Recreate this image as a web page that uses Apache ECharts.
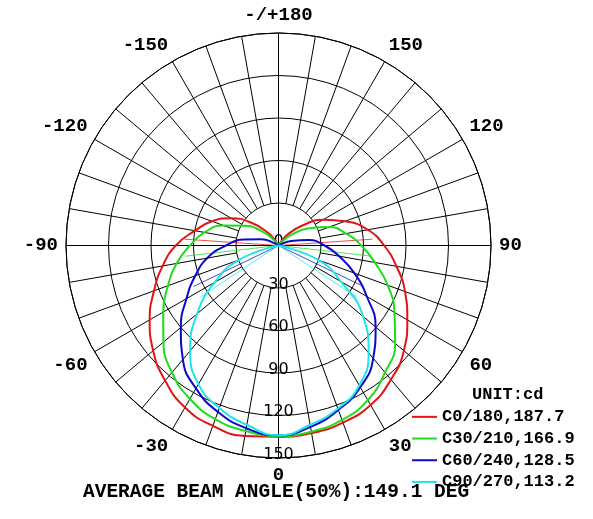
<!DOCTYPE html>
<html><head><meta charset="utf-8">
<script src="https://cdn.jsdelivr.net/npm/echarts@6/dist/echarts.min.js"></script>
<style>html,body{margin:0;padding:0;background:#fff}#c{width:593px;height:519px}</style>
</head><body><div id="c"></div>
<script>
// vertical angle (deg): 0 = nadir (bottom), +90 right, -90 left, +/-180 top
const angles = [-180,-170,-160,-150,-140,-130,-120,-110,-100,-90,-80,-70,-60,-50,-40,-30,-20,-10,0,10,20,30,40,50,60,70,80,90,100,110,120,130,140,150,160,170,180];
const c0   = [0,0,0,3,12,25,38.5,50,60,72.5,83,93.5,105,115.5,124.5,132,135.5,136.5,135,134.5,133,130,123.5,115.5,105,95,84.5,74.5,64,50,36.5,22,10,2,0,0,0];
const c30  = [0,0,0,0,5,16,28,41.5,53,62.5,73,83,94,106,117,125,130.5,133,134.5,133.5,131,126,117,107.5,94.5,82,69,58.5,48.5,38,24,11,3,0,0,0,0];
const c60  = [0,0,0,0,0,0,3,13,24.5,37,51,62.5,75,90,105,116.5,125,131,134,130,123.5,115.5,104,89.5,72,57,43.5,32.5,22,9.5,1,0,0,0,0,0,0];
const c90  = [0,0,0,0,0,0,0,0,0,0,0,30,52,75,97,113,122,128.5,134,128.5,122.5,114,99,78,51,30,0,0,0,0,0,0,0,0,0,0,0];
const seriesNames = ['C0/180','C30/210','C60/240','C90/270'];
const beamAngles = [187.7,166.9,128.5,113.2];
const halfIntensity = 66.5;
const avgBeamAngle = 149.1;
const unitText = 'cd';
const radialMax = 150, radialStep = 30;
const angleLabelStep = 30, spokeStep = 10, crossStep = 90;

const colors = ['#e31414','#1edc1e','#0a0ac8','#1ee6e6'];
const FONT = 'Liberation Mono';
const CX = 278.5, CY = 245.5, R = 212.5;

const toAxis = a => (a + 360) % 360;
const angleFmt = v => v === 180 ? '-/+180' : (v >= 360 ? '' : (v > 180 ? String(v - 360) : String(v)));

const baseAngle = {type:'value', min:0, max:360, startAngle:270, clockwise:false,
  axisTick:{show:false}};

const chart = echarts.init(document.getElementById('c'));
const curveSeries = [c0,c30,c60,c90].map((vals,i)=>({
  name: seriesNames[i], type:'line', coordinateSystem:'polar', polarIndex:0,
  data: angles.map((a,j)=>[vals[j], toAxis(a)]),
  symbol:'none', showSymbol:false, smooth:0.5,
  lineStyle:{color:colors[i], width:2}, itemStyle:{color:colors[i]}, z:5
}));
const beamSeries = beamAngles.map((b,i)=>({
  name: seriesNames[i] + ' beam', type:'line', coordinateSystem:'polar', polarIndex:0,
  data: [[halfIntensity, toAxis(-b/2)], [0, 0], [halfIntensity, toAxis(b/2)]],
  symbol:'none', showSymbol:false,
  lineStyle:{color:colors[i], width:1, opacity:0.75}, itemStyle:{color:colors[i]}, z:4
}));

chart.setOption({
  animation:false,
  backgroundColor:'#fff',
  polar:[
    {center:[CX,CY], radius:R},
    {center:[CX,CY], radius:[R*radialStep/radialMax, R]},
    {center:[CX,CY], radius:R}
  ],
  angleAxis:[
    Object.assign({}, baseAngle, {polarIndex:0, interval:angleLabelStep,
      axisLine:{show:true, lineStyle:{color:'#000', width:1}},
      splitLine:{show:false},
      axisLabel:{margin:8, fontFamily:FONT, fontWeight:'bold', fontSize:19, color:'#000', formatter:angleFmt}}),
    Object.assign({}, baseAngle, {polarIndex:1, interval:spokeStep,
      axisLine:{show:false}, axisLabel:{show:false},
      splitLine:{show:true, lineStyle:{color:'#000', width:1}}}),
    Object.assign({}, baseAngle, {polarIndex:2, interval:crossStep,
      axisLine:{show:false}, axisLabel:{show:false},
      splitLine:{show:true, lineStyle:{color:'#000', width:1}}})
  ],
  radiusAxis:[
    {polarIndex:0, type:'value', min:0, max:radialMax, interval:radialStep,
      axisLine:{show:false}, axisTick:{show:false},
      splitLine:{show:true, lineStyle:{color:'#000', width:1}},
      axisLabel:{margin:0, align:'center', verticalAlign:'bottom', lineHeight:7,
        fontFamily:'DejaVu Sans', fontSize:16, color:'#000'}},
    {polarIndex:1, type:'value', min:radialStep, max:radialMax, show:false},
    {polarIndex:2, type:'value', min:0, max:radialMax, show:false}
  ],
  title:[
    {text:'UNIT:' + unitText, left:472, top:386, padding:0,
      textStyle:{fontFamily:FONT, fontWeight:'bold', fontSize:17, color:'#000'}},
    {text:'AVERAGE BEAM ANGLE(50%):' + avgBeamAngle.toFixed(1) + ' DEG', left:83, top:482, padding:0,
      textStyle:{fontFamily:FONT, fontWeight:'bold', fontSize:19.5, color:'#000'}}
  ],
  legend:{
    data: seriesNames.map(n=>({name:n, icon:'rect'})),
    orient:'vertical', left:412, top:406, padding:0, itemGap:0,
    itemWidth:25, itemHeight:2,
    formatter: n => n + ',' + beamAngles[seriesNames.indexOf(n)].toFixed(1),
    textStyle:{fontFamily:FONT, fontWeight:'bold', fontSize:17, lineHeight:21.7, color:'#000'}
  },
  series: beamSeries.concat(curveSeries)
});
</script>
</body></html>
